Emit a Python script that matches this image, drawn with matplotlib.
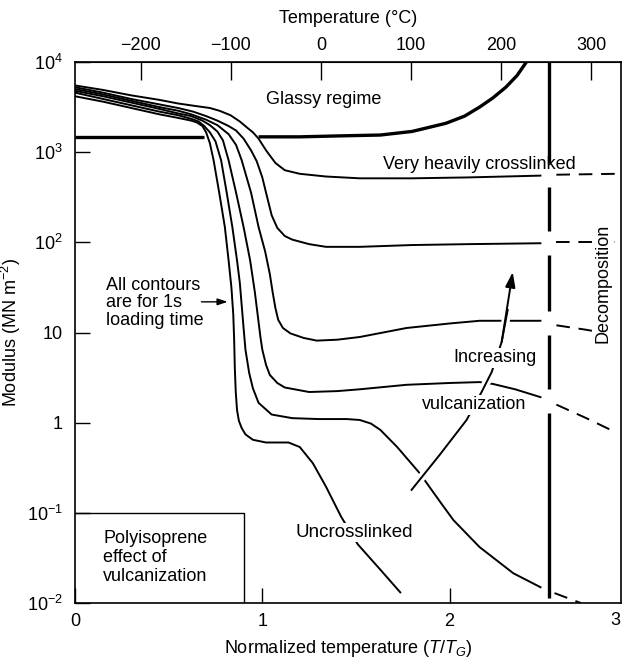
import numpy as np
import matplotlib.pyplot as plt
import matplotlib.patheffects as pe
from matplotlib.ticker import NullLocator

plt.rcParams['font.family'] = ['Liberation Sans', 'DejaVu Sans']
plt.rcParams['mathtext.fontset'] = 'custom'
plt.rcParams['mathtext.rm'] = 'Liberation Sans'
plt.rcParams['mathtext.it'] = 'Liberation Sans:italic'
plt.rcParams['mathtext.default'] = 'regular'

# contours for 1 s loading time, log10 of modulus (MN m^-2) vs T/Tg
# a = uncrosslinked ... f = very heavily crosslinked
xa = [0.00, 0.15, 0.30, 0.45, 0.55, 0.62, 0.65, 0.68, 0.70, 0.72, 0.74, 0.77, 0.80, 0.82, 0.835,
      0.845, 0.85, 0.853, 0.858, 0.865, 0.875, 0.89, 0.91, 0.95, 1.02, 1.14, 1.20, 1.27, 1.34, 1.42,
      1.51, 1.63, 1.74]
la = [3.62, 3.56, 3.49, 3.42, 3.38, 3.35, 3.33, 3.29, 3.22, 3.10, 2.91, 2.55, 2.17, 1.80, 1.50,
      1.20, 0.90, 0.62, 0.35, 0.14, 0.02, -0.06, -0.13, -0.19, -0.22, -0.22, -0.27, -0.45, -0.71, -1.04,
      -1.35, -1.63, -1.89]

xb = [0.00, 0.15, 0.30, 0.45, 0.55, 0.62, 0.66, 0.69, 0.72, 0.75, 0.78, 0.81, 0.84, 0.865, 0.88,
      0.89, 0.90, 0.91, 0.93, 0.95, 0.98, 1.05, 1.16, 1.30, 1.45, 1.52, 1.58, 1.63, 1.72, 1.84,
      1.95, 2.02, 2.16, 2.34, 2.49]
lb = [3.66, 3.59, 3.52, 3.45, 3.41, 3.37, 3.34, 3.29, 3.22, 3.12, 2.91, 2.55, 2.17, 1.80, 1.55,
      1.30, 1.05, 0.81, 0.55, 0.38, 0.22, 0.09, 0.05, 0.04, 0.04, 0.03, -0.01, -0.08, -0.27, -0.56,
      -0.88, -1.08, -1.38, -1.67, -1.83]
xb_d = [2.56, 2.70]
lb_d = [-1.89, -2.0]

xc = [0.00, 0.15, 0.30, 0.45, 0.55, 0.62, 0.68, 0.72, 0.76, 0.79, 0.82, 0.86, 0.90, 0.935, 0.96,
      0.975, 0.99, 1.00, 1.02, 1.04, 1.08, 1.12, 1.25, 1.40, 1.52, 1.77, 2.00, 2.16, 2.23, 2.35,
      2.49]
lc = [3.68, 3.62, 3.55, 3.48, 3.43, 3.40, 3.35, 3.30, 3.23, 3.13, 2.91, 2.55, 2.17, 1.80, 1.45,
      1.20, 0.95, 0.81, 0.64, 0.53, 0.44, 0.39, 0.34, 0.35, 0.37, 0.42, 0.44, 0.45, 0.43, 0.37,
      0.28]
xc_d = [2.57, 2.73, 2.89]
lc_d = [0.20, 0.05, -0.11]

xd = [0.00, 0.15, 0.30, 0.45, 0.55, 0.62, 0.70, 0.76, 0.82, 0.86, 0.89, 0.94, 0.98, 1.015, 1.04,
      1.055, 1.07, 1.085, 1.11, 1.15, 1.22, 1.29, 1.40, 1.52, 1.77, 2.00, 2.16, 2.35, 2.49]
ld = [3.70, 3.64, 3.57, 3.50, 3.46, 3.42, 3.36, 3.30, 3.20, 3.08, 2.91, 2.55, 2.17, 1.90, 1.65,
      1.45, 1.27, 1.14, 1.05, 0.99, 0.94, 0.91, 0.92, 0.95, 1.05, 1.10, 1.13, 1.13, 1.13]
xd_d = [2.57, 2.73, 2.89]
ld_d = [1.08, 1.03, 0.97]

xe = [0.00, 0.15, 0.30, 0.45, 0.55, 0.63, 0.70, 0.76, 0.82, 0.86, 0.90, 0.94, 0.97, 1.00, 1.02,
      1.05, 1.08, 1.12, 1.16, 1.25, 1.34, 1.52, 1.80, 2.10, 2.49]
le = [3.72, 3.66, 3.59, 3.53, 3.49, 3.45, 3.40, 3.35, 3.29, 3.24, 3.15, 3.02, 2.90, 2.72, 2.55,
      2.30, 2.16, 2.07, 2.03, 1.98, 1.95, 1.95, 1.97, 1.98, 1.99]
xe_d = [2.57, 2.73, 2.89]
le_d = [2.0, 2.0, 2.0]

xf = [0.00, 0.15, 0.30, 0.45, 0.55, 0.65, 0.72, 0.77, 0.83, 0.88, 0.92, 0.95, 0.98, 1.02, 1.07,
      1.12, 1.20, 1.34, 1.52, 1.80, 2.10, 2.49]
lf = [3.74, 3.69, 3.63, 3.58, 3.54, 3.51, 3.49, 3.46, 3.41, 3.34, 3.27, 3.22, 3.15, 3.02, 2.88,
      2.80, 2.76, 2.73, 2.71, 2.71, 2.72, 2.74]
xf_d = [2.57, 2.73, 2.89]
lf_d = [2.75, 2.755, 2.76]

# glassy regime boundary
xg1 = [0.0, 0.69]
lg1 = [3.17, 3.17]
xg2 = [0.98, 1.20, 1.40, 1.63, 1.80, 1.98, 2.08, 2.16, 2.23, 2.30, 2.36, 2.41]
lg2 = [3.17, 3.17, 3.18, 3.19, 3.23, 3.32, 3.40, 3.50, 3.60, 3.72, 3.85, 4.0]

# decomposition line
x_dec = 2.53
l_dec_bottom = -1.95

# "increasing vulcanization" arrow path
xar = [1.797, 1.947, 2.091, 2.171, 2.225, 2.278, 2.310, 2.337]
lar = [-0.745, -0.357, 0.031, 0.341, 0.563, 0.896, 1.25, 1.67]

Tg = 208.0  # K, for top temperature axis

fs = 13

fig = plt.figure(figsize=(6.23, 6.63), dpi=100)
ax = fig.add_axes([75/623, 60/663, 546/623, 541/663])

lw = 1.4
solid = [(xa, la), (xb, lb), (xc, lc), (xd, ld), (xe, le), (xf, lf)]
dashed = [(xb_d, lb_d), (xc_d, lc_d), (xd_d, ld_d), (xe_d, le_d), (xf_d, lf_d)]
for x, l in solid:
    ax.plot(x, 10**np.array(l), color='black', lw=lw, solid_capstyle='butt')
for x, l in dashed:
    ax.plot(x, 10**np.array(l), color='black', lw=lw, linestyle=(0, (7, 4.5)))

ax.plot(xg1, 10**np.array(lg1), color='black', lw=2.4, solid_capstyle='butt')
ax.plot(xg2, 10**np.array(lg2), color='black', lw=2.4, solid_capstyle='butt')

# vertical decomposition line, broken where the contours cross it
cross = sorted(np.interp(x_dec, list(x) + list(xd_), list(l) + list(ld_))
               for (x, l), (xd_, ld_) in zip(solid[2:], dashed[1:]))
gap = 0.13
pts = [l_dec_bottom]
for c in cross:
    pts += [c - gap, c + gap]
pts.append(4.0)
for lo, hi in zip(pts[0::2], pts[1::2]):
    ax.plot([x_dec, x_dec], [10**lo, 10**hi], color='black', lw=2.4, solid_capstyle='butt')

# increasing vulcanization arrow (white halo cuts the curves it crosses)
ax.plot(xar[:-1], 10**np.array(lar[:-1]), color='black', lw=1.4, zorder=4,
        path_effects=[pe.Stroke(linewidth=6, foreground='white'), pe.Normal()])
ax.annotate('', xy=(xar[-1], 10**lar[-1]), xytext=(xar[-3], 10**lar[-3]),
            arrowprops=dict(arrowstyle='-|>,head_length=0.9,head_width=0.3',
                            color='black', lw=1.4, shrinkA=0, shrinkB=0), zorder=5)

# inset label box
ax.plot([0, 0.90, 0.90], [0.1, 0.1, 0.01], color='black', lw=1.0)

wbox = dict(facecolor='white', edgecolor='none', pad=1.0)
ax.text(1.33, 10**3.58, 'Glassy regime', fontsize=fs, ha='center', va='center')
ax.text(1.647, 10**2.86, 'Very heavily crosslinked', fontsize=fs, ha='left', va='center')
ax.text(1.49, 10**-1.22, 'Uncrosslinked', fontsize=13.5, ha='center', va='center', bbox=wbox, zorder=6)
ax.text(2.24, 10**0.72, 'Increasing', fontsize=fs, ha='center', va='center', bbox=wbox, zorder=6)
ax.text(2.13, 10**0.20, 'vulcanization', fontsize=fs, ha='center', va='center', bbox=wbox, zorder=6)
ax.text(2.82, 10**1.55, 'Decomposition', fontsize=fs, ha='center', va='center', rotation=90,
        bbox=dict(facecolor='white', edgecolor='none', pad=2.0), zorder=6)
ax.text(0.166, 10**1.33, 'All contours\nare for 1s\nloading time', fontsize=fs, ha='left',
        va='center', linespacing=1.05)
ax.annotate('', xy=(0.815, 10**1.34), xytext=(0.675, 10**1.34),
            arrowprops=dict(arrowstyle='-|>,head_length=0.6,head_width=0.2',
                            color='black', lw=1.0, shrinkA=0, shrinkB=0))
ax.text(0.15, 10**-1.50, 'Polyisoprene\neffect of\nvulcanization', fontsize=fs, ha='left',
        va='center', linespacing=1.15)

ax.set_yscale('log')
ax.set_xlim(0, 2.915)
ax.set_ylim(1e-2, 1e4)
ax.set_yticks([1e-2, 1e-1, 1, 10, 1e2, 1e3, 1e4],
              [r'$10^{-2}$', r'$10^{-1}$', '1', '10', r'$10^2$', r'$10^3$', r'$10^4$'])
ax.yaxis.set_minor_locator(NullLocator())
ax.set_xticks([0, 1, 2])
ax.tick_params(direction='in', length=11, width=1.0, labelsize=fs, pad=7)
ax.tick_params(axis='y', pad=9)
ax.text(0.99, -0.017, '3', transform=ax.transAxes, fontsize=fs, ha='center', va='top')
for s in ax.spines.values():
    s.set_linewidth(1.2)

sec = ax.secondary_xaxis('top', functions=(lambda x: x*Tg - 273, lambda t: (t + 273)/Tg))
sec.set_xticks([-200, -100, 0, 100, 200, 300])
sec.tick_params(direction='in', length=13, width=1.0, labelsize=fs, pad=6)
sec.set_xlabel('Temperature (°C)', fontsize=fs, labelpad=10)

ax.set_xlabel(r'Normalized temperature ($\mathit{T/T_G}$)', fontsize=fs)
ax.xaxis.set_label_coords(0.5, -0.064)
ax.set_ylabel(r'Modulus (MN m$^{-2}$)', fontsize=fs)
ax.yaxis.set_label_coords(-0.095, 0.5)

fig.savefig('out.png', dpi=100)
